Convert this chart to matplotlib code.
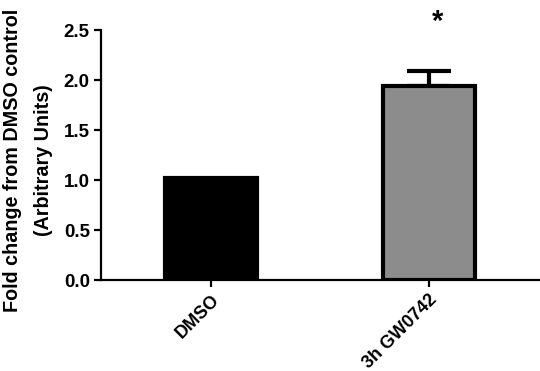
import matplotlib
matplotlib.use("Agg")
import matplotlib.pyplot as plt

CATEGORIES = ["DMSO", "3h GW0742"]
VALUES = [1.02, 1.94]
ERRORS = [0.0, 0.15]
COLORS = ["black", "#8c8c8c"]
Y_TICKS = [0.0, 0.5, 1.0, 1.5, 2.0, 2.5]
SIG_LABEL = "*"

plt.rcParams['font.family'] = ['Liberation Sans', 'DejaVu Sans']
plt.rcParams['font.weight'] = 'bold'

fig = plt.figure(figsize=(5.4, 3.71), dpi=100)
ax = fig.add_axes([0.187, 0.245, 0.813, 0.674])

x = range(len(CATEGORIES))
ax.bar(x, VALUES, width=0.42, color=COLORS, edgecolor='black', linewidth=3, zorder=2)
ax.errorbar([1], [VALUES[1]], yerr=[[0], [ERRORS[1]]], fmt='none', ecolor='black',
            elinewidth=3, capsize=16, capthick=3, zorder=1)
ax.text(1.04, 2.58, SIG_LABEL, ha='center', va='center', fontsize=21,
        fontweight='bold', clip_on=False)

ax.set_xlim(-0.505, 1.51)
ax.set_ylim(0, 2.5)
ax.set_yticks(Y_TICKS)
ax.set_yticklabels([f"{v:.1f}" for v in Y_TICKS], fontsize=13.5, fontweight='bold')
ax.set_xticks(list(x))
ax.set_xticklabels(CATEGORIES, rotation=45, ha='right', rotation_mode='anchor',
                   fontsize=13, fontweight='bold')

for side in ['top', 'right']:
    ax.spines[side].set_visible(False)
for side in ['left', 'bottom']:
    ax.spines[side].set_linewidth(1.6)
ax.tick_params(width=1.6, length=5, direction='out', pad=3)

ax.set_ylabel("Fold change from DMSO control\n(Arbitrary Units)", fontsize=14.2,
              fontweight='bold', linespacing=1.75)
ax.yaxis.set_label_coords(-0.11, 0.48)

fig.savefig("out.png", dpi=100)
